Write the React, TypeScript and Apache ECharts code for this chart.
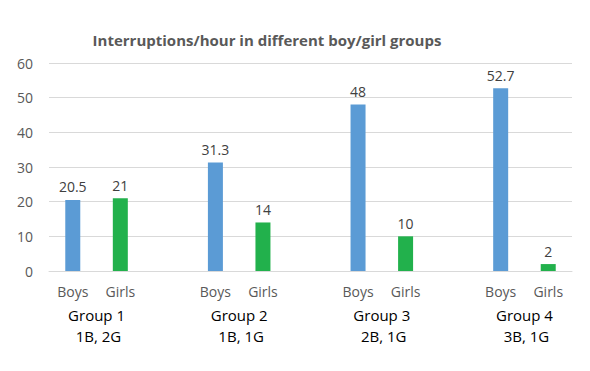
import React, { useEffect, useRef } from "react";
import * as echarts from "echarts";

const slotKeys = ["B1", "G1", "x1", "B2", "G2", "x2", "B3", "G3", "x3", "B4", "G4"];
const slotLabels: Record<string, string> = {
  B1: "Boys", G1: "Girls", B2: "Boys", G2: "Girls", B3: "Boys", G3: "Girls", B4: "Boys", G4: "Girls",
};
const boysValues: (number | string)[] = [20.5, "-", "-", 31.3, "-", "-", 48, "-", "-", 52.7, "-"];
const girlsValues: (number | string)[] = ["-", 21, "-", "-", 14, "-", "-", 10, "-", "-", 2];
const groupNames = ["Group 1", "Group 2", "Group 3", "Group 4"];
const groupMix = ["1B, 2G", "1B, 1G", "2B, 1G", "3B, 1G"];
const groupCenters = [1, 4, 7, 10];
const yTicks = { min: 0, max: 60, interval: 10 };

const FONT = "'Open Sans', 'Noto Sans', sans-serif";

export default function App() {
  const ref = useRef<HTMLDivElement>(null);
  useEffect(() => {
    if (!ref.current) return;
    const chart = echarts.init(ref.current, undefined, { renderer: "svg" });
    chart.setOption({
      animation: false,
      backgroundColor: "#ffffff",
      textStyle: { fontFamily: FONT },
      title: {
        text: "Interruptions/hour in different boy/girl groups",
        left: 262,
        top: 27,
        textAlign: "center",
        textStyle: { fontFamily: FONT, fontSize: 15, fontWeight: "bold", color: "#595959" },
      },
      grid: { left: 49, right: 18, top: 63, bottom: 100, containLabel: false },
      xAxis: [
        {
          type: "category",
          data: slotKeys,
          axisLine: { lineStyle: { color: "#d9d9d9", width: 1 } },
          axisTick: { show: false },
          axisLabel: {
            interval: 0,
            margin: 13,
            fontSize: 14,
            color: "#595959",
            fontFamily: FONT,
            formatter: (v: string) => slotLabels[v] || "",
          },
        },
        {
          type: "value",
          position: "bottom",
          min: 0,
          max: 11,
          interval: 1,
          axisLine: { show: false },
          axisTick: { show: false },
          splitLine: { show: false },
          axisLabel: {
            margin: 33,
            fontSize: 15,
            lineHeight: 21,
            color: "#000000",
            fontFamily: FONT,
            showMinLabel: true,
            showMaxLabel: true,
            formatter: (v: number) => {
              const i = groupCenters.indexOf(v);
              return i >= 0 ? groupNames[i] + "\n " + groupMix[i] : "";
            },
          },
        },
      ],
      yAxis: {
        type: "value",
        min: yTicks.min,
        max: yTicks.max,
        interval: yTicks.interval,
        axisLine: { show: false },
        axisTick: { show: false },
        splitLine: { lineStyle: { color: "#d9d9d9", width: 1 } },
        axisLabel: { margin: 16, fontSize: 14, color: "#595959", fontFamily: FONT },
      },
      series: [
        {
          name: "Boys",
          type: "bar",
          data: boysValues,
          barWidth: 15,
          barGap: "-100%",
          itemStyle: { color: "#5b9bd5" },
          label: { show: true, position: "top", distance: 6, fontSize: 14, color: "#404040", fontFamily: FONT },
        },
        {
          name: "Girls",
          type: "bar",
          data: girlsValues,
          barWidth: 15,
          barGap: "-100%",
          itemStyle: { color: "#22b14c" },
          label: { show: true, position: "top", distance: 6, fontSize: 14, color: "#404040", fontFamily: FONT },
        },
      ],
    });
    return () => chart.dispose();
  }, []);
  return <div ref={ref} style={{ position: "fixed", left: 0, top: 0, width: 590, height: 371 }} />;
}
